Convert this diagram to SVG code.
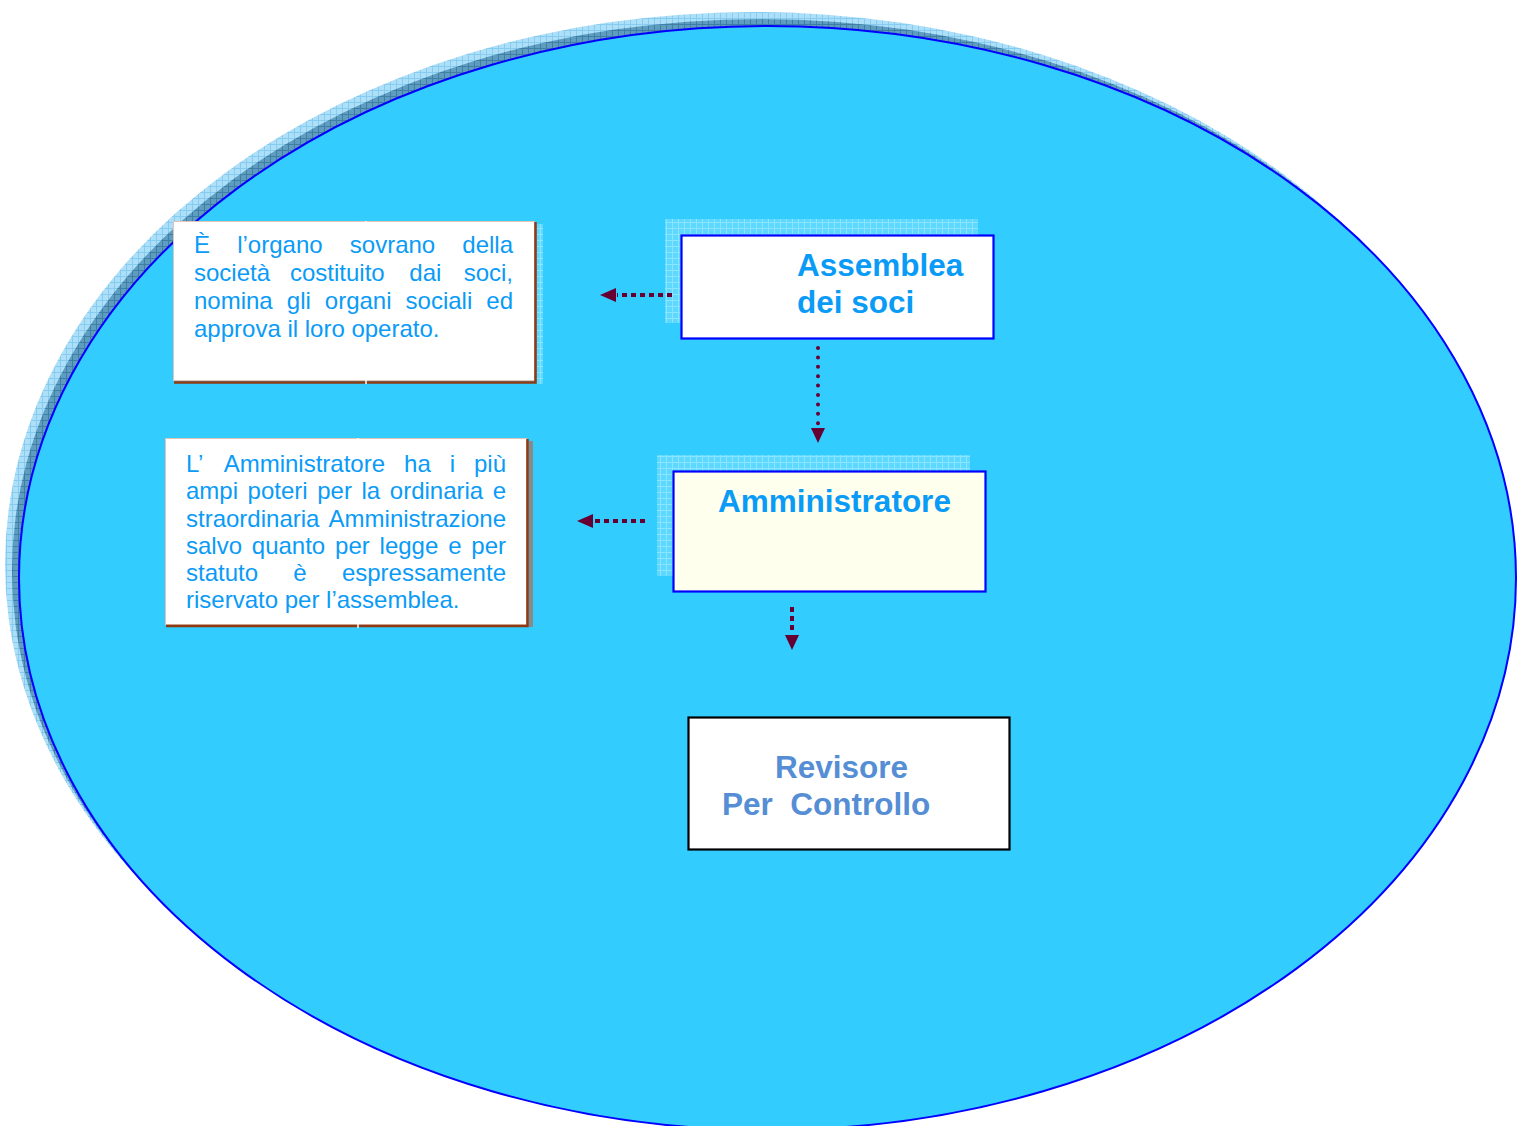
<svg xmlns="http://www.w3.org/2000/svg" width="1527" height="1126" viewBox="0 0 1527 1126">
<style>
.desc{font-family:"Liberation Sans",Arial,sans-serif;font-size:24px;fill:#0A9BF7;}
.title{font-family:"Liberation Sans",Arial,sans-serif;font-size:31.5px;font-weight:bold;fill:#0A9BF7;}
.rev{font-family:"Liberation Sans",Arial,sans-serif;font-size:31.5px;font-weight:bold;fill:#558ED5;}
.sq{fill:none;stroke:#660033;stroke-width:4;stroke-dasharray:5 4;}
.dot{fill:none;stroke:#660033;stroke-width:4;stroke-linecap:round;stroke-dasharray:0 9.4;}
.head{fill:#660033;}
.node{stroke:#0000FF;stroke-width:2.2;}
</style>
<defs>
<pattern id="gridLight" width="6" height="6" patternUnits="userSpaceOnUse">
<rect width="6" height="6" fill="#ADDFF8"/>
<path d="M0 0.5H6M0.5 0V6" stroke="#86CBF0" stroke-width="1"/>
</pattern>
<pattern id="gridDark" width="6" height="6" patternUnits="userSpaceOnUse">
<rect width="6" height="6" fill="#5E9CC0"/>
<path d="M0 0.5H6M0.5 0V6" stroke="#3F7FA5" stroke-width="1"/>
</pattern>
<pattern id="gridBox" width="6" height="6" patternUnits="userSpaceOnUse">
<rect width="6" height="6" fill="#5FD8FF"/>
<path d="M0 0.5H6M0.5 0V6" stroke="#8AE5FF" stroke-width="1"/>
</pattern>
</defs>

<g id="background">
<ellipse cx="753.5" cy="564" rx="748.5" ry="552" fill="url(#gridLight)"/>
<ellipse cx="760.5" cy="571" rx="748.5" ry="552" fill="url(#gridDark)"/>
<ellipse cx="767.5" cy="578" rx="748.5" ry="552" fill="#33CCFF" stroke="#0000FF" stroke-width="2"/>
</g>

<g id="n-desc-assemblea">
<rect x="537" y="224" width="6" height="160" fill="url(#gridBox)"/>
<rect x="173.5" y="221.5" width="361" height="159" fill="#FFFFFF" stroke="#E2C4B4" stroke-width="1"/>
<path d="M535.5 222V382.5H174" fill="none" stroke="#8E3A12" stroke-width="2.5"/>
<path d="M366 221V223M366 380V384" stroke="#FFFFFF" stroke-width="1.5"/>
<text class="desc" y="253"><tspan x="194">È</tspan><tspan x="237.2">l’organo</tspan><tspan x="349.8">sovrano</tspan><tspan x="462.3">della</tspan></text>
<text class="desc" y="281"><tspan x="194">società</tspan><tspan x="290">costituito</tspan><tspan x="409.3">dai</tspan><tspan x="463.7">soci,</tspan></text>
<text class="desc" y="309"><tspan x="194">nomina</tspan><tspan x="286.8">gli</tspan><tspan x="324.8">organi</tspan><tspan x="405.6">sociali</tspan><tspan x="486.3">ed</tspan></text>
<text class="desc" y="337" x="194">approva il loro operato.</text>
</g>

<g id="n-desc-amministratore">
<rect x="529" y="441" width="4" height="186" fill="#8A8A8A"/>
<rect x="165.5" y="438.5" width="361" height="186" fill="#FFFFFF" stroke="#E2C4B4" stroke-width="1"/>
<path d="M527.5 439V626H166" fill="none" stroke="#8E3A12" stroke-width="2.5"/>
<path d="M358 438V440M358 624V628" stroke="#FFFFFF" stroke-width="1.5"/>
<text class="desc" y="472"><tspan x="186">L’</tspan><tspan x="223.7">Amministratore</tspan><tspan x="404.1">ha</tspan><tspan x="449.8">i</tspan><tspan x="474">più</tspan></text>
<text class="desc" y="499"><tspan x="186">ampi</tspan><tspan x="247.6">poteri</tspan><tspan x="317.2">per</tspan><tspan x="361.5">la</tspan><tspan x="389.8">ordinaria</tspan><tspan x="492.7">e</tspan></text>
<text class="desc" y="527"><tspan x="186">straordinaria</tspan><tspan x="328.6">Amministrazione</tspan></text>
<text class="desc" y="554"><tspan x="186">salvo</tspan><tspan x="251.8">quanto</tspan><tspan x="335.1">per</tspan><tspan x="379.6">legge</tspan><tspan x="448.2">e</tspan><tspan x="471.3">per</tspan></text>
<text class="desc" y="581"><tspan x="186">statuto</tspan><tspan x="293.3">è</tspan><tspan x="341.9">espressamente</tspan></text>
<text class="desc" y="608" x="186">riservato per l’assemblea.</text>
</g>

<g id="n-assemblea">
<rect x="665" y="219" width="313" height="104" fill="url(#gridBox)"/>
<rect x="681.5" y="235.5" width="312" height="103" fill="#FFFFFF" class="node"/>
<text class="title" x="797" y="276">Assemblea</text>
<text class="title" x="797" y="313">dei soci</text>
</g>

<g id="n-amministratore">
<rect x="657" y="455" width="313" height="121" fill="url(#gridBox)"/>
<rect x="673.5" y="471.5" width="312" height="120" fill="#FFFFEE" class="node"/>
<text class="title" x="834.5" y="512" text-anchor="middle">Amministratore</text>
</g>

<g id="n-revisore">
<rect x="688.5" y="717.5" width="321" height="132" fill="#FFFFFF" stroke="#000000" stroke-width="2.2"/>
<text class="rev" x="775" y="778">Revisore</text>
<text class="rev" x="722" y="815" xml:space="preserve">Per  Controllo</text>
</g>

<g id="connectors">
<path class="sq" d="M672 295H617"/>
<path class="head" d="M600 295L616 288V302Z"/>
<path class="dot" d="M818 348V426"/>
<path class="head" d="M818 443L811 428H825Z"/>
<path class="sq" d="M645 521H593"/>
<path class="head" d="M577 521L593 514V528Z"/>
<path class="sq" d="M792 607V634"/>
<path class="head" d="M792 650L785 635H799Z"/>
</g>
</svg>
